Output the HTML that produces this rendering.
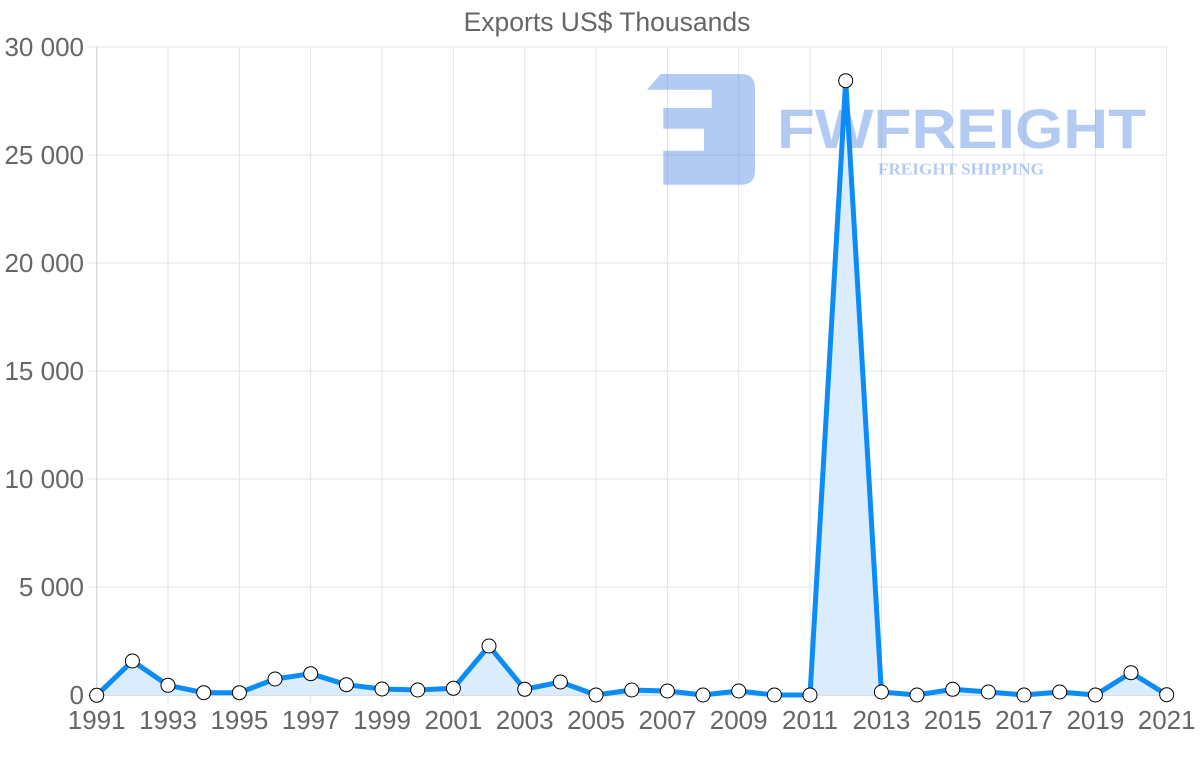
<!DOCTYPE html>
<html>
<head>
<meta charset="utf-8">
<style>
  html, body { margin: 0; padding: 0; background: #fff; }
  svg { display: block; }
  text { font-family: "Liberation Sans", sans-serif; fill: #666; }
</style>
</head>
<body>
<svg width="1200" height="763" viewBox="0 0 1200 763" xmlns="http://www.w3.org/2000/svg">
  <!-- Title -->
  <text x="607" y="31" font-size="26.5" text-anchor="middle">Exports US$ Thousands</text>

  <!-- horizontal gridlines -->
  <g stroke="#e4e4e4" stroke-width="1">
    <line x1="88" y1="47" x2="1166.7" y2="47"/>
    <line x1="88" y1="155" x2="1166.7" y2="155"/>
    <line x1="88" y1="263" x2="1166.7" y2="263"/>
    <line x1="88" y1="371" x2="1166.7" y2="371"/>
    <line x1="88" y1="479" x2="1166.7" y2="479"/>
    <line x1="88" y1="587" x2="1166.7" y2="587"/>
  </g>
  <!-- vertical gridlines -->
  <g stroke="#e4e4e4" stroke-width="1">
    <line x1="168.0" y1="47" x2="168.0" y2="703"/>
    <line x1="239.4" y1="47" x2="239.4" y2="703"/>
    <line x1="310.7" y1="47" x2="310.7" y2="703"/>
    <line x1="382.0" y1="47" x2="382.0" y2="703"/>
    <line x1="453.4" y1="47" x2="453.4" y2="703"/>
    <line x1="524.7" y1="47" x2="524.7" y2="703"/>
    <line x1="596.0" y1="47" x2="596.0" y2="703"/>
    <line x1="667.4" y1="47" x2="667.4" y2="703"/>
    <line x1="738.7" y1="47" x2="738.7" y2="703"/>
    <line x1="810.0" y1="47" x2="810.0" y2="703"/>
    <line x1="881.4" y1="47" x2="881.4" y2="703"/>
    <line x1="952.7" y1="47" x2="952.7" y2="703"/>
    <line x1="1024.0" y1="47" x2="1024.0" y2="703"/>
    <line x1="1095.4" y1="47" x2="1095.4" y2="703"/>
    <line x1="1166.7" y1="47" x2="1166.7" y2="703"/>
  </g>
  <!-- axes -->
  <line x1="96.7" y1="47" x2="96.7" y2="703" stroke="#cccccc" stroke-width="1"/>
  <line x1="88" y1="695.3" x2="1166.7" y2="695.3" stroke="#cccccc" stroke-width="1"/>

  <!-- Watermark -->
  <g fill="rgb(65,125,225)" fill-opacity="0.4">
    <path d="M660.7 74 L741 74 Q755 74 755 88 L755 171 Q755 184.7 741 184.7 L663.3 184.7 L663.3 150.7 L704 150.7 L704 128.7 L663.3 128.7 L663.3 108 L711.7 108 L711.7 89.7 L647 89.7 Z"/>
  </g>
  <text x="777" y="148" font-size="56" font-weight="bold" textLength="369" lengthAdjust="spacingAndGlyphs" style="fill: rgb(65,125,225); fill-opacity: 0.4;">FWFREIGHT</text>
  <text x="878" y="174.3" font-size="16.5" font-weight="bold" textLength="166" lengthAdjust="spacingAndGlyphs" style="font-family: 'Liberation Serif', serif; fill: rgb(65,125,225); fill-opacity: 0.4;">FREIGHT SHIPPING</text>

  <!-- Y labels -->
  <g font-size="26" text-anchor="end">
    <text x="84" y="56">30 000</text>
    <text x="84" y="164">25 000</text>
    <text x="84" y="272">20 000</text>
    <text x="84" y="380">15 000</text>
    <text x="84" y="488">10 000</text>
    <text x="84" y="596">5 000</text>
    <text x="84" y="704">0</text>
  </g>

  <!-- X labels -->
  <g font-size="26" text-anchor="middle">
    <text x="96.7" y="729">1991</text>
    <text x="168.0" y="729">1993</text>
    <text x="239.4" y="729">1995</text>
    <text x="310.7" y="729">1997</text>
    <text x="382.0" y="729">1999</text>
    <text x="453.4" y="729">2001</text>
    <text x="524.7" y="729">2003</text>
    <text x="596.0" y="729">2005</text>
    <text x="667.4" y="729">2007</text>
    <text x="738.7" y="729">2009</text>
    <text x="810.0" y="729">2011</text>
    <text x="881.4" y="729">2013</text>
    <text x="952.7" y="729">2015</text>
    <text x="1024.0" y="729">2017</text>
    <text x="1095.4" y="729">2019</text>
    <text x="1166.7" y="729">2021</text>
  </g>

  <!-- Area fill -->
  <path fill="#d9ecfd" fill-opacity="0.95" d="M96.7 695.3 L96.7 695.3 L132.4 661 L168.0 685.3 L203.7 692.7 L239.4 692.7 L275.0 679 L310.7 673.7 L346.4 684.7 L382.0 689 L417.7 690 L453.4 688.3 L489.0 646 L524.7 689.3 L560.4 682 L596.0 695 L631.7 690 L667.4 691 L703.0 695 L738.7 691 L774.4 695 L810.0 695 L845.7 80.7 L881.4 692 L917.0 695 L952.7 689.3 L988.4 692 L1024.0 695 L1059.7 692 L1095.4 695 L1131.0 672.7 L1166.7 694.7 L1166.7 695.3 Z"/>

  <!-- Line -->
  <polyline fill="none" stroke="#0b8cf6" stroke-width="5" stroke-linejoin="round" points="96.7,695.3 132.4,661 168.0,685.3 203.7,692.7 239.4,692.7 275.0,679 310.7,673.7 346.4,684.7 382.0,689 417.7,690 453.4,688.3 489.0,646 524.7,689.3 560.4,682 596.0,695 631.7,690 667.4,691 703.0,695 738.7,691 774.4,695 810.0,695 845.7,80.7 881.4,692 917.0,695 952.7,689.3 988.4,692 1024.0,695 1059.7,692 1095.4,695 1131.0,672.7 1166.7,694.7"/>

  <!-- Points -->
  <g fill="#ffffff" stroke="#000" stroke-width="1">
    <circle cx="96.7" cy="695.3" r="7"/>
    <circle cx="132.4" cy="661" r="7"/>
    <circle cx="168.0" cy="685.3" r="7"/>
    <circle cx="203.7" cy="692.7" r="7"/>
    <circle cx="239.4" cy="692.7" r="7"/>
    <circle cx="275.0" cy="679" r="7"/>
    <circle cx="310.7" cy="673.7" r="7"/>
    <circle cx="346.4" cy="684.7" r="7"/>
    <circle cx="382.0" cy="689" r="7"/>
    <circle cx="417.7" cy="690" r="7"/>
    <circle cx="453.4" cy="688.3" r="7"/>
    <circle cx="489.0" cy="646" r="7"/>
    <circle cx="524.7" cy="689.3" r="7"/>
    <circle cx="560.4" cy="682" r="7"/>
    <circle cx="596.0" cy="695" r="7"/>
    <circle cx="631.7" cy="690" r="7"/>
    <circle cx="667.4" cy="691" r="7"/>
    <circle cx="703.0" cy="695" r="7"/>
    <circle cx="738.7" cy="691" r="7"/>
    <circle cx="774.4" cy="695" r="7"/>
    <circle cx="810.0" cy="695" r="7"/>
    <circle cx="845.7" cy="80.7" r="7"/>
    <circle cx="881.4" cy="692" r="7"/>
    <circle cx="917.0" cy="695" r="7"/>
    <circle cx="952.7" cy="689.3" r="7"/>
    <circle cx="988.4" cy="692" r="7"/>
    <circle cx="1024.0" cy="695" r="7"/>
    <circle cx="1059.7" cy="692" r="7"/>
    <circle cx="1095.4" cy="695" r="7"/>
    <circle cx="1131.0" cy="672.7" r="7"/>
    <circle cx="1166.7" cy="694.7" r="7"/>
  </g>
</svg>
</body>
</html>
